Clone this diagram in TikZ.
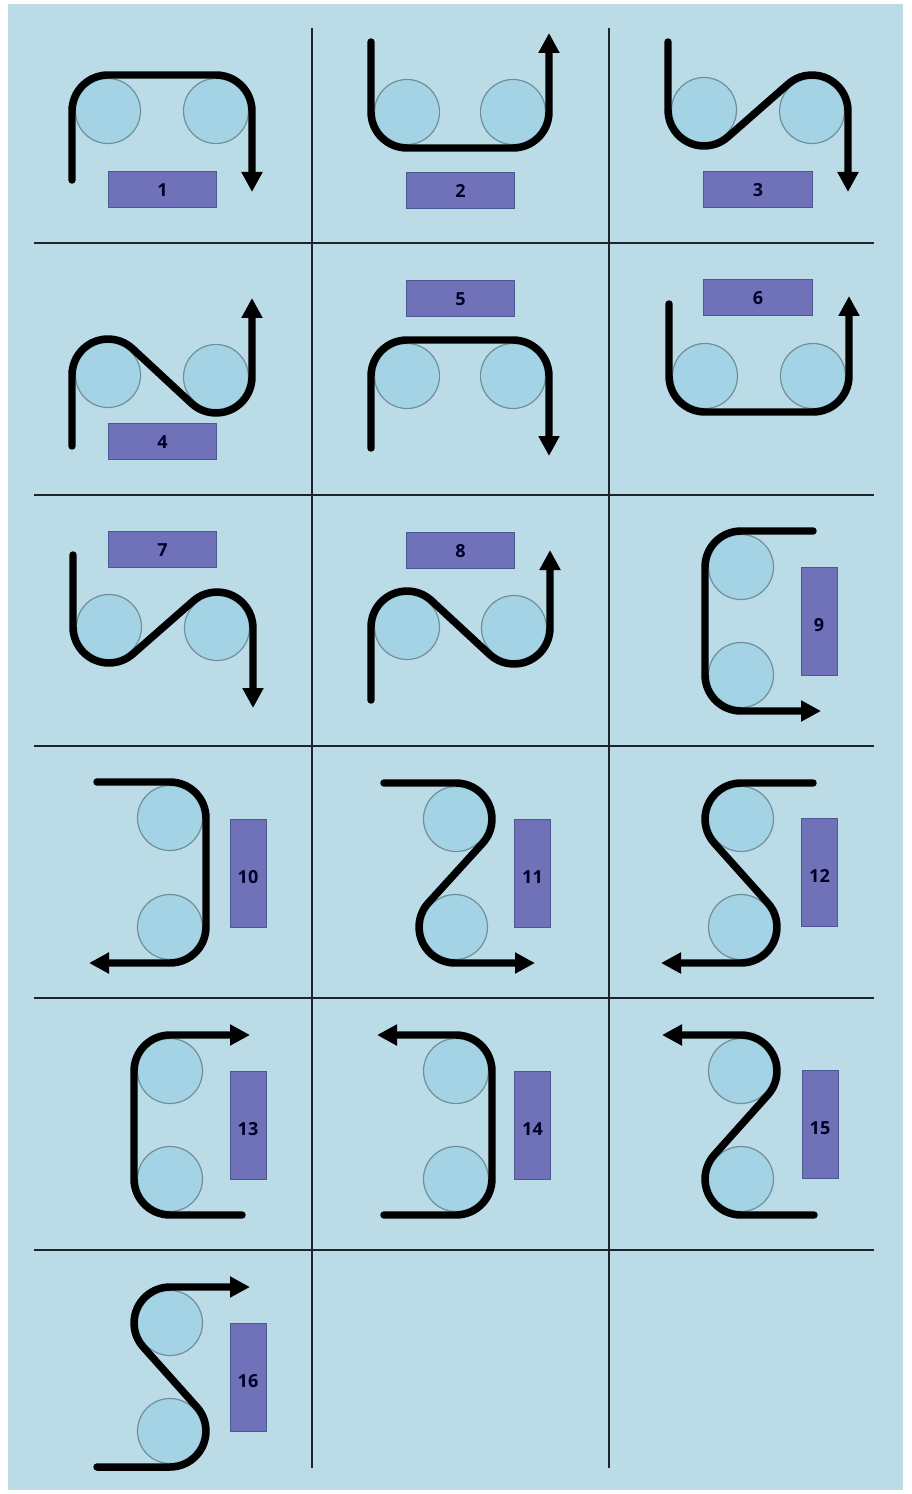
\documentclass[tikz,border=0pt]{standalone}
\usepackage{fontspec}
\setmainfont{Open Sans}
\usetikzlibrary{arrows.meta,calc}
\definecolor{panel}{HTML}{BBDBE6}
\definecolor{roll}{HTML}{A3D3E4}
\definecolor{rolledge}{HTML}{6F8F99}
\definecolor{boxfill}{HTML}{6F72B8}
\definecolor{boxedge}{HTML}{4A5A90}
\definecolor{gridc}{HTML}{1E2428}
\tikzset{
  roller/.style={circle,draw=rolledge,fill=roll,line width=0.9pt,minimum size=48.75pt,inner sep=0pt},
  belt/.style={draw=black,line width=5.6pt,line join=round,line cap=round,-{Triangle[width=15pt,length=15pt]}},
  labelbox/.style={draw=boxedge,fill=boxfill,line width=0.7pt,inner sep=0pt,font=\fontsize{13.5}{16}\selectfont\bfseries,text=black!85!blue},
  gridline/.style={draw=gridc,line width=1.1pt}
}
% horizontal and vertical label boxes
\newcommand{\HB}[4]{\node[labelbox,minimum width=81.5pt,minimum height=27.5pt,text height=11pt,text depth=0pt] (#1) at (#2,#3) {#4};}
\newcommand{\VB}[4]{\node[labelbox,minimum width=27pt,minimum height=81pt,text height=16pt,text depth=0pt] (#1) at (#2,#3) {#4};}
% arc on the belt round roller #1 from angle #2 to angle #3
\newcommand{\W}[3]{($(#1)+(#2:36)$) arc[start angle=#2,end angle=#3,radius=36]}
\begin{document}
\begin{tikzpicture}[x=0.75pt,y=0.75pt,yscale=-1]
\useasboundingbox (0,0) rectangle (912,1494);
\fill[white] (0,0) rectangle (912,1494);
\fill[panel] (8,4) rectangle (903,1490);
% grid
\foreach \n/\y in {a/243,b/495,c/746,d/998,e/1250}{
  \coordinate (gl\n) at (34,\y); \coordinate (gr\n) at (874,\y);
  \draw[gridline] (gl\n) -- (gr\n);
}
\foreach \n/\x in {a/312,b/609}{
  \coordinate (gt\n) at (\x,28); \coordinate (gb\n) at (\x,1468);
  \draw[gridline] (gt\n) -- (gb\n);
}
% rollers
\foreach \n/\x/\y in {
  1a/108/111,1b/216/111,2a/407/112,2b/513/112,3a/704/110,3b/812/111,
  4a/108/375,4b/216/377,5a/407/376,5b/513/376,6a/705/376,6b/813/376,
  7a/109/627,7b/217/628,8a/407/627,8b/514/628,9a/741/567,9b/741/675,
  10a/170/818,10b/170/927,11a/456/819,11b/455/927,12a/741/819,12b/741/927,
  13a/170/1071,13b/170/1179,14a/456/1071,14b/456/1179,15a/741/1071,15b/741/1179,
  16a/170/1323,16b/170/1431}{
  \node[roller] (r\n) at (\x,\y) {};
}
% belts
\coordinate (s1) at (72,180); \coordinate (e1) at (252,192);
\draw[belt] (s1) -- \W{r1a}{180}{270} -- \W{r1b}{270}{360} -- (e1);
\coordinate (s2) at (371,42); \coordinate (e2) at (549,33);
\draw[belt] (s2) -- \W{r2a}{180}{90} -- \W{r2b}{90}{0} -- (e2);
\coordinate (s3) at (668,42); \coordinate (e3) at (848,192);
\draw[belt] (s3) -- \W{r3a}{180}{48.19} -- \W{r3b}{228.19}{360} -- (e3);
\coordinate (s4) at (72,446); \coordinate (e4) at (252,298);
\draw[belt] (s4) -- \W{r4a}{180}{311.81} -- \W{r4b}{131.81}{0} -- (e4);
\coordinate (s5) at (371,448); \coordinate (e5) at (549,456);
\draw[belt] (s5) -- \W{r5a}{180}{270} -- \W{r5b}{270}{360} -- (e5);
\coordinate (s6) at (669,304); \coordinate (e6) at (849,296);
\draw[belt] (s6) -- \W{r6a}{180}{90} -- \W{r6b}{90}{0} -- (e6);
\coordinate (s7) at (73,555); \coordinate (e7) at (253,708);
\draw[belt] (s7) -- \W{r7a}{180}{48.19} -- \W{r7b}{228.19}{360} -- (e7);
\coordinate (s8) at (371,700); \coordinate (e8) at (550,550);
\draw[belt] (s8) -- \W{r8a}{180}{311.81} -- \W{r8b}{131.81}{0} -- (e8);
\coordinate (s9) at (813,531); \coordinate (e9) at (821,711);
\draw[belt] (s9) -- \W{r9a}{270}{180} -- \W{r9b}{180}{90} -- (e9);
\coordinate (s10) at (97,782); \coordinate (e10) at (89,963);
\draw[belt] (s10) -- \W{r10a}{270}{360} -- \W{r10b}{0}{90} -- (e10);
\coordinate (s11) at (384,783); \coordinate (e11) at (535,963);
\draw[belt] (s11) -- \W{r11a}{270}{401.81} -- \W{r11b}{221.81}{90} -- (e11);
\coordinate (s12) at (813,783); \coordinate (e12) at (661,963);
\draw[belt] (s12) -- \W{r12a}{270}{138.19} -- \W{r12b}{-41.81}{90} -- (e12);
\coordinate (s13) at (242,1215); \coordinate (e13) at (250,1035);
\draw[belt] (s13) -- \W{r13b}{90}{180} -- \W{r13a}{180}{270} -- (e13);
\coordinate (s14) at (384,1215); \coordinate (e14) at (377,1035);
\draw[belt] (s14) -- \W{r14b}{90}{0} -- \W{r14a}{0}{-90} -- (e14);
\coordinate (s15) at (814,1215); \coordinate (e15) at (662,1035);
\draw[belt] (s15) -- \W{r15b}{90}{221.81} -- \W{r15a}{41.81}{-90} -- (e15);
\coordinate (s16) at (97,1467); \coordinate (e16) at (250,1287);
\draw[belt] (s16) -- \W{r16b}{90}{-41.81} -- \W{r16a}{138.19}{270} -- (e16);
% label boxes
\HB{b1}{162.5}{189.5}{1}
\HB{b2}{460.5}{190.5}{2}
\HB{b3}{758}{189.5}{3}
\HB{b4}{162.5}{441.5}{4}
\HB{b5}{460.5}{298.5}{5}
\HB{b6}{758}{297.5}{6}
\HB{b7}{162.5}{549.5}{7}
\HB{b8}{460.5}{550.5}{8}
\VB{b9}{819}{621}{9}
\VB{b10}{248}{873}{10}
\VB{b11}{532.5}{873}{11}
\VB{b12}{819.5}{872}{12}
\VB{b13}{248}{1125}{13}
\VB{b14}{532.5}{1125}{14}
\VB{b15}{820}{1124}{15}
\VB{b16}{248}{1377}{16}
\end{tikzpicture}
\end{document}
